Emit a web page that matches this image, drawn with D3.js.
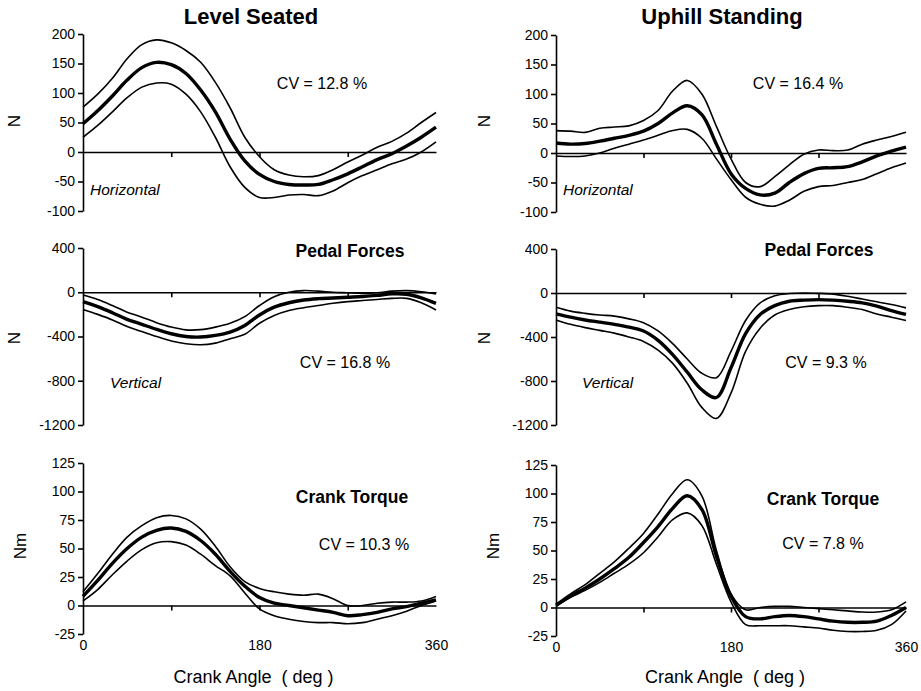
<!DOCTYPE html>
<html>
<head>
<meta charset="utf-8">
<script src="https://cdn.jsdelivr.net/npm/d3@7"></script>
<style>
  body { margin:0; background:#fff; }
  svg { display:block; font-family:"Liberation Sans", Arial, sans-serif; }
  .axis path, .axis line { stroke:#000; stroke-width:1.6; }
  .axis text { font-size:14px; fill:#000; }
  text { white-space:pre; }
</style>
</head>
<body>
<svg id="chart"></svg>
<script>
// crank angle (deg) sampled every 15 deg
const angles = [0,15,30,45,60,75,90,105,120,135,150,165,180,195,210,225,240,255,270,285,300,315,330,345,360];

// Level seated - horizontal pedal force (N)
const lsHorizMean = [48,70,95,122,143,152,148,133,105,68,22,-15,-38,-50,-55,-56,-55,-47,-37,-25,-13,-3,10,25,42];
const lsHorizHi   = [76,98,125,158,182,190,185,172,152,118,75,25,-8,-30,-39,-42,-40,-30,-17,-5,8,18,32,50,67];
const lsHorizLo   = [25,45,68,92,110,117,115,98,68,25,-25,-60,-77,-77,-73,-72,-74,-66,-52,-40,-30,-20,-12,0,17];

// Uphill standing - horizontal pedal force (N)
const usHorizMean = [17,15,16,20,25,30,37,50,68,80,65,15,-35,-60,-71,-68,-50,-35,-26,-25,-23,-15,-5,3,10];
const usHorizHi   = [38,37,35,42,44,46,55,72,105,123,100,45,-10,-50,-57,-40,-20,-2,5,4,5,15,22,28,35];
const usHorizLo   = [-5,-6,-5,0,8,15,22,30,38,40,25,-10,-45,-75,-87,-90,-80,-65,-57,-55,-50,-45,-35,-25,-17];

// Level seated - vertical pedal force (N)
const lsVertMean = [-85,-130,-185,-245,-290,-335,-375,-400,-405,-390,-360,-300,-205,-135,-95,-70,-58,-52,-45,-38,-28,-15,-18,-50,-100];
const lsVertHi   = [-25,-65,-120,-180,-225,-275,-315,-340,-338,-315,-280,-220,-120,-40,0,15,10,0,-5,-10,-5,10,15,5,-15];
const lsVertLo   = [-155,-200,-250,-310,-355,-400,-440,-465,-475,-460,-420,-380,-280,-210,-165,-140,-120,-100,-85,-75,-65,-55,-55,-95,-160];

// Uphill standing - vertical pedal force (N)
const usVertMean = [-190,-220,-245,-265,-285,-310,-345,-430,-560,-720,-880,-950,-680,-370,-195,-115,-75,-65,-60,-65,-75,-90,-120,-160,-195];
const usVertHi   = [-130,-165,-185,-200,-210,-235,-270,-345,-460,-600,-730,-770,-530,-250,-90,-25,-5,0,-3,-10,-30,-55,-80,-105,-135];
const usVertLo   = [-245,-285,-315,-340,-365,-400,-440,-520,-640,-820,-1040,-1140,-910,-530,-320,-200,-150,-125,-115,-115,-130,-150,-190,-220,-250];

// Level seated - crank torque (Nm)
const lsTorqueMean = [8,22,37,50,60,66,68,65,57,45,30,17,7,2,0,-2,-4,-6,-9,-8,-6,-3,-1,2,5];
const lsTorqueHi   = [12,28,45,60,70,77,79,76,67,52,34,21,15,12,10,9,10,6,0,0,2,3,3,4,8];
const lsTorqueLo   = [4,14,27,39,49,55,56,53,45,35,26,11,-3,-9,-12,-14,-15,-15,-16,-15,-12,-9,-5,0,4];

// Uphill standing - crank torque (Nm)
const usTorqueMean = [2,10,17,25,34,44,57,71,87,98,86,45,10,-8,-10,-8,-7,-8,-10,-12,-13,-13,-12,-7,0];
const usTorqueHi   = [3,12,20,30,40,52,65,82,100,112,98,50,12,-2,0,1,1,0,-1,-2,-3,-4,-4,-2,5];
const usTorqueLo   = [1,9,15,22,30,38,48,62,77,83,72,38,5,-15,-16,-16,-16,-17,-18,-20,-21,-21,-20,-15,-3];

const columnTitles = ["Level Seated","Uphill Standing"];
const rowTitles = [null,"Pedal Forces","Crank Torque"];
const rowUnits = ["N","N","Nm"];
const rowNotes = ["Horizontal","Vertical",null];
const cvLabels = [["CV = 12.8 %","CV = 16.4 %"],["CV = 16.8 %","CV = 9.3 %"],["CV = 10.3 %","CV = 7.8 %"]];
const yDomains = [[-100,200],[-1200,400],[-25,125]];
const yTicks = [[-100,-50,0,50,100,150,200],[-1200,-800,-400,0,400],[-25,0,25,50,75,100,125]];
const xTicks = [0,180,360];
const xAxisLabel = "Crank Angle  ( deg )";

const series = [
  [[lsHorizMean,lsHorizHi,lsHorizLo],[usHorizMean,usHorizHi,usHorizLo]],
  [[lsVertMean,lsVertHi,lsVertLo],[usVertMean,usVertHi,usVertLo]],
  [[lsTorqueMean,lsTorqueHi,lsTorqueLo],[usTorqueMean,usTorqueHi,usTorqueLo]]
];

const W = 921, H = 691;

// layout (pixels)
const colRange = [[83,436],[556,906]];
const rowRange = [[[211,34],[212,35]],[[425,248],[425,249]],[[634,463],[636,465]]];
const unitX = [[16,22],[486,495]];
const unitY = [121,338,546];
const cvPos = [[[322,89],[798,89]],[[345,368],[826,368]],[[364,550],[823,549]]];
const rowTitlePos = [null,[[350,257],[819,256]],[[352,503],[823,505]]];
const notePos = [[[90,195],[563,195]],[[110,388],[582,388]]];

const svg = d3.select("#chart")
  .attr("width",W)
  .attr("height",H)
  .attr("viewBox",`0 0 ${W} ${H}`);

columnTitles.forEach((t,c)=>{
  svg.append("text")
    .attr("x",c===0 ? 251 : 722)
    .attr("y",24)
    .attr("text-anchor","middle")
    .attr("font-size",22)
    .attr("font-weight","bold")
    .text(t);
});

series.forEach((rowSeries,r)=>{
  rowSeries.forEach((curves,c)=>{

    const x = d3.scaleLinear()
      .domain([0,360])
      .range(colRange[c]);

    const y = d3.scaleLinear()
      .domain(yDomains[r])
      .range(rowRange[r][c]);

    const g = svg.append("g");

    // y axis
    g.append("g")
      .attr("class","axis")
      .attr("transform",`translate(${x(0)},0)`)
      .call(
        d3.axisLeft(y)
          .tickValues(yTicks[r])
          .tickSize(5)
          .tickSizeOuter(0)
          .tickPadding(3)
          .tickFormat(d=>String(d))
      );

    // zero line with quarter ticks
    g.append("g")
      .attr("class","axis")
      .attr("transform",`translate(0,${y(0)})`)
      .call(
        d3.axisBottom(x)
          .tickValues([90,180,270])
          .tickSize(5)
          .tickSizeOuter(0)
          .tickFormat("")
      );

    // crank angle labels on bottom row
    if(r===2){
      const xa = g.append("g")
        .attr("class","axis")
        .attr("transform",`translate(0,${y(yDomains[r][0])})`)
        .call(
          d3.axisBottom(x)
            .tickValues(xTicks)
            .tickSize(0)
            .tickPadding(6)
            .tickFormat(d=>String(d))
        );
      xa.select(".domain").remove();
      xa.selectAll("text").attr("font-size",14.5);

      g.append("text")
        .attr("x",(colRange[c][0]+colRange[c][1])/2 - 6)
        .attr("y",683)
        .attr("text-anchor","middle")
        .attr("font-size",18)
        .text(xAxisLabel);
    }

    const line = d3.line()
      .x((d,i)=>x(angles[i]))
      .y(d=>y(d))
      .curve(d3.curveCatmullRom);

    curves.forEach((vals,k)=>{
      g.append("path")
        .datum(vals)
        .attr("d",line)
        .attr("fill","none")
        .attr("stroke","#000")
        .attr("stroke-width",k===0 ? 3.4 : 1.6)
        .attr("stroke-linejoin","round");
    });

    // unit label
    g.append("text")
      .attr("transform",`translate(${unitX[c][r===2?1:0]},${unitY[r]}) rotate(-90)`)
      .attr("text-anchor","middle")
      .attr("dominant-baseline","middle")
      .attr("font-size",17)
      .text(rowUnits[r]);

    g.append("text")
      .attr("x",cvPos[r][c][0])
      .attr("y",cvPos[r][c][1])
      .attr("text-anchor","middle")
      .attr("font-size",16)
      .text(cvLabels[r][c]);

    if(rowTitles[r]){
      g.append("text")
        .attr("x",rowTitlePos[r][c][0])
        .attr("y",rowTitlePos[r][c][1])
        .attr("text-anchor","middle")
        .attr("font-size",17.5)
        .attr("font-weight","bold")
        .text(rowTitles[r]);
    }

    if(rowNotes[r]){
      g.append("text")
        .attr("x",notePos[r][c][0])
        .attr("y",notePos[r][c][1])
        .attr("font-size",15.5)
        .attr("font-style","italic")
        .text(rowNotes[r]);
    }
  });
});
</script>
</body>
</html>
